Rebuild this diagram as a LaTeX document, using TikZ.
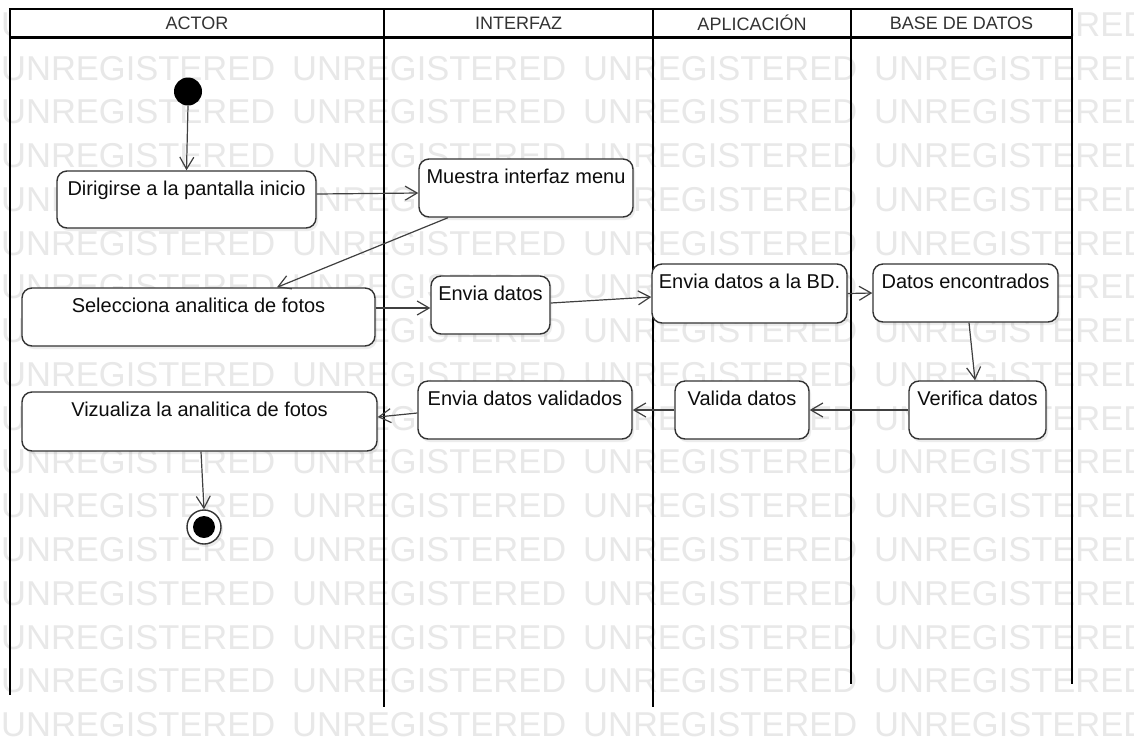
\documentclass[tikz,border=0pt]{standalone}
\usepackage{fontspec}
\setmainfont{Liberation Sans}
\usetikzlibrary{arrows.meta,shadows}
\begin{document}
\begin{tikzpicture}[x=1pt,y=-1pt,
  lane/.style={line width=2.4pt, draw=black},
  act/.style={draw=black!80, line width=1.4pt, rounded corners=10pt, fill=white,
    drop shadow={shadow xshift=2pt, shadow yshift=-3pt, opacity=0.15}, inner sep=0pt},
  lbl/.style={anchor=base, yshift=-25pt, inner sep=0pt, text=black!95, font=\fontsize{20}{24}\selectfont},
  hdr/.style={inner sep=0pt, text=black!80, font=\fontsize{18}{20}\selectfont},
  wm/.style={anchor=base west, inner sep=0pt, text=black!9, font=\fontsize{34.5}{34.5}\selectfont},
  conn/.style={draw=black!75, line width=1.2pt, -{Straight Barb[length=12pt,width=14pt,line width=1.2pt]}}
]
\useasboundingbox[fill=white] (0,0) rectangle (1134,740);
% watermark
\foreach \k in {-1,...,15}{
  \foreach \j in {0,...,3}{
    \node[wm] (wm\k x\j) at ({1+291*\j},{80+43.77*\k}) {UNREGISTERED};
  }
}
% header
\fill[white] (10,9) rectangle (1072,37.5);
\node[hdr] (hactor) at (197,23) {ACTOR};
\node[hdr] (hinter) at (518.5,23) {INTERFAZ};
\node[hdr] (haplic) at (752,23) {APLICACIÓN};
\node[hdr] (hbase) at (961.5,23) {BASE DE DATOS};
% lanes
\draw[lane] (8.8,9) -- (1073.2,9);
\draw[lane] (10,37.5) -- (1072,37.5);
\draw[lane] (10,9) -- (10,695);
\draw[lane] (384,9) -- (384,707);
\draw[lane] (653,9) -- (653,707);
\draw[lane] (851,9) -- (851,684);
\draw[lane] (1072,9) -- (1072,684);
% nodes
\node[circle, fill=black, minimum size=28pt, inner sep=0pt] (start) at (188,91.5) {};
\node[act, minimum width=259pt, minimum height=57pt, label={[lbl]north:Dirigirse a la pantalla inicio}] (dir) at (186.5,199.5) {};
\node[act, minimum width=214pt, minimum height=58pt, label={[lbl]north:Muestra interfaz menu}] (mue) at (526,188) {};
\node[act, minimum width=353pt, minimum height=58pt, label={[lbl]north:Selecciona analitica de fotos}] (sel) at (198.5,317) {};
\node[act, minimum width=119pt, minimum height=58pt, label={[lbl]north:Envia datos}] (env) at (490.5,305) {};
\node[act, minimum width=195pt, minimum height=59pt, label={[lbl]north:Envia datos a la BD.}] (bd) at (749.5,293.5) {};
\node[act, minimum width=185pt, minimum height=58pt, label={[lbl]north:Datos encontrados}] (enc) at (965.5,293) {};
\node[act, minimum width=137pt, minimum height=58pt, label={[lbl]north:Verifica datos}] (ver) at (977.5,410) {};
\node[act, minimum width=134pt, minimum height=58pt, label={[lbl]north:Valida datos}] (val) at (742,410) {};
\node[act, minimum width=214pt, minimum height=58pt, label={[lbl]north:Envia datos validados}] (evv) at (525,410) {};
\node[act, minimum width=355pt, minimum height=59pt, label={[lbl]north:Vizualiza la analitica de fotos}] (viz) at (199.5,421.5) {};
\node[circle, draw=black!80, line width=1.4pt, fill=white, minimum size=34pt, inner sep=0pt,
  drop shadow={shadow xshift=2pt, shadow yshift=-3pt, opacity=0.15},
  path picture={\fill[black] (path picture bounding box.center) circle (11pt);}] (fin) at (204,527) {};
% connectors
\draw[conn] (start.south) -- (dir.north);
\draw[conn] ([yshift=5.5pt]dir.east) -- ([yshift=-5pt]mue.west);
\draw[conn] ([xshift=-78pt]mue.south) -- ([xshift=78.5pt]sel.north);
\draw[conn] ([yshift=9pt]sel.east) -- ([yshift=-3pt]env.west);
\draw[conn] ([yshift=2pt]env.east) -- ([yshift=-3.5pt]bd.west);
\draw[conn] (bd.east) -- (enc.west);
\draw[conn] ([xshift=3.5pt]enc.south) -- ([xshift=-2.5pt]ver.north);
\draw[conn] (ver.west) -- (val.east);
\draw[conn] (val.west) -- (evv.east);
\draw[conn] ([yshift=-3pt]evv.west) -- ([yshift=4.5pt]viz.east);
\draw[conn] ([xshift=1.5pt]viz.south) -- (fin.north);
\end{tikzpicture}
\end{document}
